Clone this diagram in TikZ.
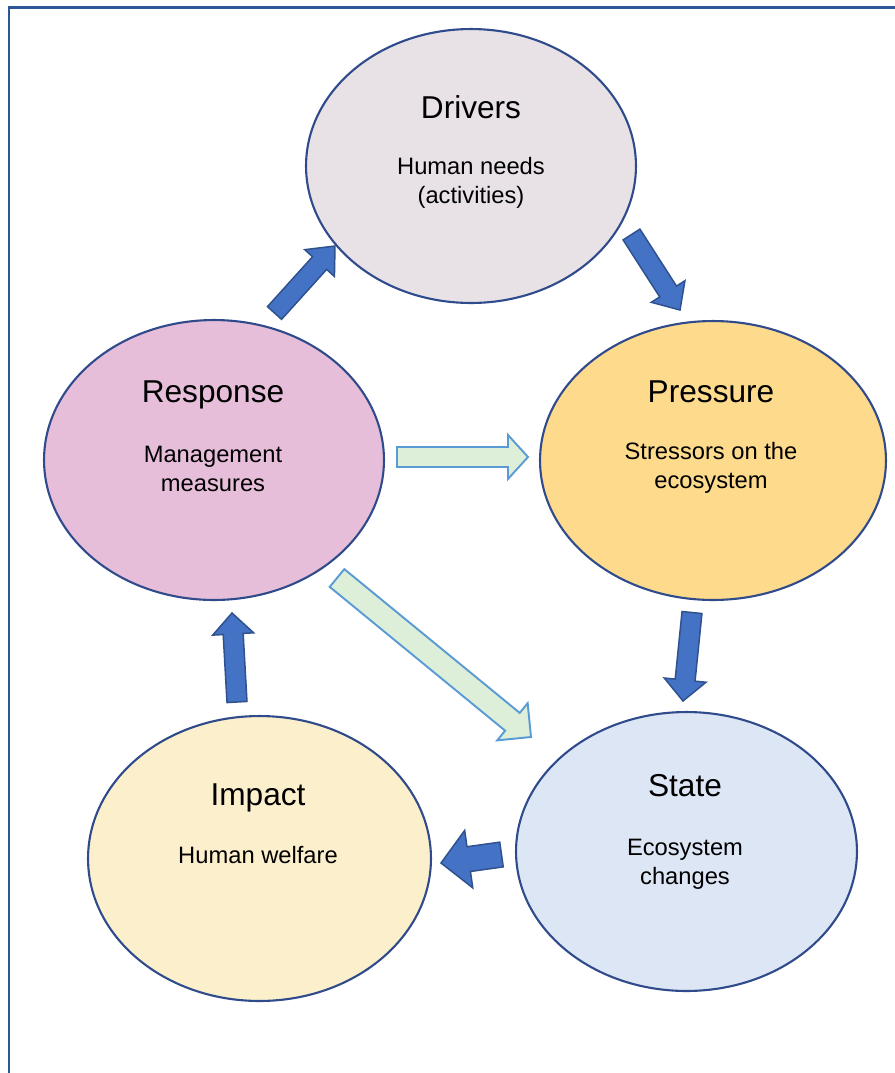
\documentclass[tikz,border=0pt]{standalone}
\usepackage{fontspec}
\setmainfont{Liberation Sans}
\usetikzlibrary{shapes.geometric,calc,positioning}

\definecolor{framec}{HTML}{2E5597}
\definecolor{edgec}{HTML}{2F4B8C}
\definecolor{driversc}{HTML}{E8E2E6}
\definecolor{pressurec}{HTML}{FDDA8C}
\definecolor{responsec}{HTML}{E6BEDA}
\definecolor{statec}{HTML}{DDE6F4}
\definecolor{impactc}{HTML}{FCEFCC}
\definecolor{bluefill}{HTML}{4472C4}
\definecolor{blueedge}{HTML}{2F528F}
\definecolor{greenfill}{HTML}{DDEFD8}
\definecolor{greenedge}{HTML}{5B9BD5}

% block arrow: style, from, to, shaft half width, head half width, head length
\newcommand{\blockarrow}[6]{%
  \coordinate (hb) at ($(#3)!#6!(#2)$);
  \draw[#1] ($(#2)!#4!90:(#3)$) -- ($(hb)!#4!90:(#3)$) -- ($(hb)!#5!90:(#3)$) -- (#3)
    -- ($(hb)!#5!-90:(#3)$) -- ($(hb)!#4!-90:(#3)$) -- ($(#2)!#4!-90:(#3)$) -- cycle;}

\begin{document}
\begin{tikzpicture}[x=0.02cm,y=-0.02cm,
  stage/.style={ellipse,draw=edgec,line width=1.2pt,inner sep=0pt},
  stagetitle/.style={font=\fontsize{18}{21}\selectfont,text height=13pt,text depth=0pt,inner sep=0pt},
  stagetext/.style={font=\fontsize{13.5}{16.5}\selectfont,align=center,inner sep=0pt},
  bluearrow/.style={fill=bluefill,draw=blueedge,line width=0.85pt},
  greenarrow/.style={fill=greenfill,draw=greenedge,line width=1.1pt}]
\useasboundingbox (0,0) rectangle (895,1073);
\draw[framec,line width=1.7pt] (895,7) -- (9,7) -- (9,1073);

% stages
\node[stage,fill=driversc,minimum width=6.6cm,minimum height=5.48cm] (drivers) at (471,166) {};
\node[stage,fill=pressurec,minimum width=6.92cm,minimum height=5.58cm] (pressure) at (713,460.5) {};
\node[stage,fill=responsec,minimum width=6.8cm,minimum height=5.6cm] (response) at (214,460) {};
\node[stage,fill=statec,minimum width=6.82cm,minimum height=5.58cm] (state) at (686.5,851.5) {};
\node[stage,fill=impactc,minimum width=6.86cm,minimum height=5.7cm] (impact) at (259.5,858.5) {};

\node[stagetitle] (driverstitle) at (471,107) {Drivers};
\node[stagetext] (driverstext) at (471,183) {Human needs\\(activities)};
\node[stagetitle] (pressuretitle) at (711,391) {Pressure};
\node[stagetext] (pressuretext) at (711,468) {Stressors on the\\ecosystem};
\node[stagetitle] (responsetitle) at (213,391) {Response};
\node[stagetext] (responsetext) at (213,469) {Management\\measures};
\node[stagetitle] (statetitle) at (685,785) {State};
\node[stagetext] (statetext) at (685,864) {Ecosystem\\changes};
\node[stagetitle] (impacttitle) at (258,794) {Impact};
\node[stagetext] (impacttext) at (258,855) {Human welfare};

% arrow ends
\coordinate (r2dA) at (274.5,313);
\coordinate (r2dB) at (335,246);
\coordinate (d2pA) at (631.5,234.5);
\coordinate (d2pB) at (680,310);
\coordinate (r2pA) at (397,457);
\coordinate (r2pB) at (528,457);
\coordinate (r2sA) at (337,578);
\coordinate (r2sB) at (531,737);
\coordinate (p2sA) at (692,612.5);
\coordinate (p2sB) at (683,701);
\coordinate (s2iA) at (501.5,854.5);
\coordinate (s2iB) at (441,863);
\coordinate (i2rA) at (237,702);
\coordinate (i2rB) at (232,613);

\blockarrow{bluearrow}{r2dA}{r2dB}{0.19cm}{0.4cm}{0.46cm}
\blockarrow{bluearrow}{d2pA}{d2pB}{0.2cm}{0.4cm}{0.44cm}
\blockarrow{greenarrow}{r2pA}{r2pB}{0.2cm}{0.44cm}{0.4cm}
\blockarrow{greenarrow}{r2sA}{r2sB}{0.23cm}{0.48cm}{0.48cm}
\blockarrow{bluearrow}{p2sA}{p2sB}{0.2cm}{0.42cm}{0.42cm}
\blockarrow{bluearrow}{s2iA}{s2iB}{0.25cm}{0.58cm}{0.56cm}
\blockarrow{bluearrow}{i2rA}{i2rB}{0.2cm}{0.41cm}{0.42cm}

\end{tikzpicture}
\end{document}
